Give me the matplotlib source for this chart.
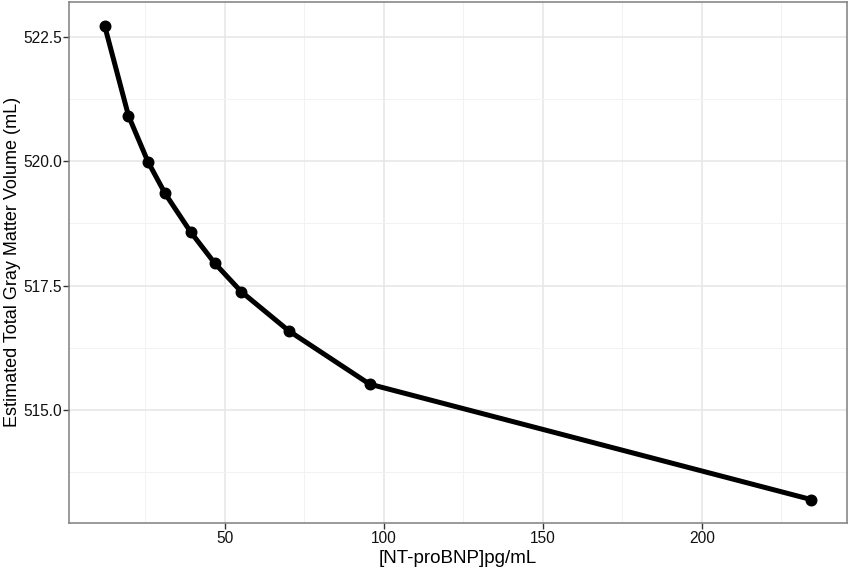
import numpy as np
import matplotlib
matplotlib.use("Agg")
import matplotlib.pyplot as plt
from matplotlib.ticker import MultipleLocator

# NT-proBNP (pg/mL) vs estimated total gray matter volume (mL)
ntprobnp = [12.2, 19.7, 25.8, 31.2, 39.2, 46.8, 55.1, 70.1, 95.5, 234.4]
gm_volume = [522.72, 520.91, 519.99, 519.35, 518.58, 517.95, 517.38, 516.59, 515.52, 513.20]

x_ticks = [50, 100, 150, 200]
y_ticks = [515.0, 517.5, 520.0, 522.5]

plt.rcParams["font.family"] = ["Liberation Sans", "DejaVu Sans"]

fig = plt.figure(figsize=(8.51, 5.71), dpi=100)
ax = fig.add_axes([69.3/851, 1-523.3/571, (846.7-69.3)/851, (523.3-2)/571])

ax.plot(ntprobnp, gm_volume, color="black", lw=3.6, solid_capstyle="round",
        marker="o", ms=7.6, zorder=3)

# ggplot-like expansion (5%)
xr = max(ntprobnp) - min(ntprobnp); yr = max(gm_volume) - min(gm_volume)
ax.set_xlim(min(ntprobnp) - 0.05*xr, max(ntprobnp) + 0.05*xr)
ax.set_ylim(min(gm_volume) - 0.05*yr, max(gm_volume) + 0.05*yr)

ax.set_xticks(x_ticks)
ax.set_yticks(y_ticks)
ax.set_yticklabels([f"{v:.1f}" for v in y_ticks])
ax.xaxis.set_minor_locator(MultipleLocator(25))
ax.yaxis.set_minor_locator(MultipleLocator(1.25))
ax.grid(which="major", color="#e6e6e6", lw=1.1, zorder=0)
ax.grid(which="minor", color="#f2f2f2", lw=0.7, zorder=0)
ax.set_axisbelow(True)
ax.tick_params(which="minor", length=0)
ax.tick_params(which="major", length=4.5, width=1, color="#333333",
               labelsize=11.2, labelcolor="#111111", pad=1)
for s in ax.spines.values():
    s.set_color("#7f7f7f"); s.set_linewidth(1.1)

ax.set_xlabel("[NT-proBNP]pg/mL", fontsize=13.5, labelpad=3)
fig.text(13/851, 1-262/571, "Estimated Total Gray Matter Volume (mL)", fontsize=13,
         rotation=90, ha="center", va="center")

fig.savefig("out.png", dpi=100)
